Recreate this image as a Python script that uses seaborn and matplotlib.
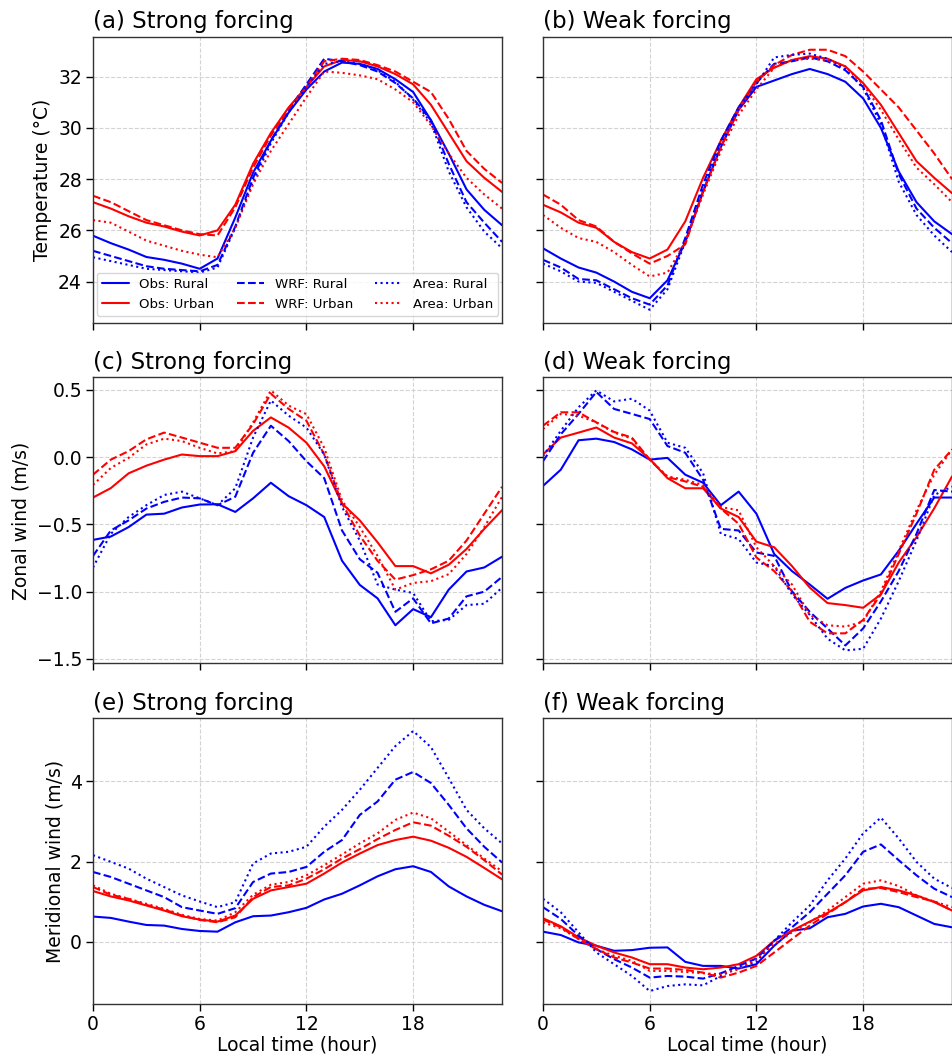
import numpy as np
import pandas as pd
import matplotlib
matplotlib.use("Agg")
import matplotlib.pyplot as plt
import seaborn as sns

hours = list(range(24))

# ---------------- Temperature (°C) ----------------
t_strong_obs_rural = [25.79, 25.5, 25.25, 24.96, 24.85, 24.7, 24.5, 24.9, 26.5, 28.25, 29.5, 30.6, 31.5, 32.2, 32.55, 32.5, 32.3, 31.9, 31.4, 30.3, 29.0, 27.6, 26.8, 26.2]
t_strong_obs_urban = [27.1, 26.85, 26.55, 26.3, 26.15, 25.95, 25.8, 26.0, 27.0, 28.6, 29.8, 30.8, 31.6, 32.4, 32.65, 32.6, 32.4, 32.1, 31.7, 30.9, 29.8, 28.7, 28.05, 27.5]
t_strong_wrf_rural = [25.2, 25.0, 24.8, 24.6, 24.5, 24.45, 24.4, 24.65, 26.15, 28.05, 29.5, 30.7, 31.7, 32.7, 32.6, 32.45, 32.2, 31.75, 31.15, 30.3, 28.6, 27.1, 26.3, 25.55]
t_strong_wrf_urban = [27.35, 27.1, 26.75, 26.4, 26.2, 26.0, 25.85, 25.8, 26.9, 28.45, 29.7, 30.75, 31.6, 32.6, 32.7, 32.65, 32.45, 32.2, 31.8, 31.4, 30.35, 29.1, 28.4, 27.85]
t_strong_area_rural = [24.95, 24.8, 24.65, 24.5, 24.45, 24.4, 24.35, 24.55, 26.1, 27.9, 29.4, 30.6, 31.6, 32.5, 32.6, 32.5, 32.25, 31.8, 31.1, 30.2, 28.3, 26.9, 25.95, 25.3]
t_strong_area_urban = [26.4, 26.3, 25.95, 25.6, 25.4, 25.2, 25.05, 24.95, 26.1, 27.8, 29.1, 30.15, 31.2, 32.2, 32.15, 32.05, 31.9, 31.5, 31.0, 30.1, 29.0, 28.05, 27.4, 26.85]

t_weak_obs_rural = [25.3, 24.9, 24.55, 24.35, 24.0, 23.6, 23.35, 24.05, 25.55, 27.5, 29.25, 30.7, 31.6, 31.85, 32.1, 32.3, 32.1, 31.8, 31.15, 30.0, 28.3, 27.1, 26.35, 25.85]
t_weak_obs_urban = [27.0, 26.7, 26.3, 26.1, 25.55, 25.15, 24.9, 25.25, 26.35, 28.05, 29.5, 30.8, 31.9, 32.35, 32.65, 32.8, 32.7, 32.4, 31.75, 30.9, 29.8, 28.7, 28.05, 27.45]
t_weak_wrf_rural = [24.85, 24.55, 24.1, 24.05, 23.7, 23.35, 23.1, 23.85, 25.7, 27.8, 29.5, 30.8, 31.75, 32.5, 32.6, 32.75, 32.6, 32.25, 31.6, 30.3, 28.2, 26.85, 26.1, 25.5]
t_weak_wrf_urban = [27.4, 27.0, 26.4, 26.15, 25.55, 25.1, 24.7, 25.0, 25.45, 27.55, 29.25, 30.7, 31.8, 32.45, 32.85, 33.05, 33.05, 32.8, 32.2, 31.5, 30.8, 29.9, 29.0, 28.0]
t_weak_area_rural = [24.7, 24.4, 24.0, 23.95, 23.6, 23.25, 22.9, 23.7, 25.55, 27.65, 29.4, 30.75, 31.7, 32.75, 32.85, 32.9, 32.7, 32.3, 31.55, 30.15, 27.9, 26.6, 25.8, 25.15]
t_weak_area_urban = [26.6, 26.1, 25.7, 25.55, 25.15, 24.65, 24.2, 24.35, 25.55, 27.4, 29.1, 30.5, 31.5, 32.35, 32.65, 32.7, 32.65, 32.4, 31.7, 30.7, 29.55, 28.45, 27.8, 27.1]

# ---------------- Zonal wind (m/s) ----------------
u_strong_obs_rural = [-0.615, -0.59, -0.52, -0.427, -0.42, -0.374, -0.352, -0.35, -0.407, -0.306, -0.19, -0.29, -0.357, -0.445, -0.77, -0.95, -1.05, -1.25, -1.13, -1.19, -0.985, -0.85, -0.82, -0.74]
u_strong_obs_urban = [-0.30, -0.23, -0.12, -0.063, -0.018, 0.02, 0.008, 0.008, 0.045, 0.196, 0.296, 0.22, 0.108, -0.068, -0.344, -0.47, -0.633, -0.81, -0.81, -0.864, -0.80, -0.683, -0.533, -0.394]
u_strong_wrf_rural = [-0.734, -0.545, -0.47, -0.382, -0.332, -0.30, -0.306, -0.357, -0.294, 0.033, 0.234, 0.12, -0.03, -0.156, -0.545, -0.759, -0.86, -1.15, -1.05, -1.236, -1.2, -1.035, -1.0, -0.89]
u_strong_wrf_urban = [-0.13, -0.018, 0.045, 0.133, 0.183, 0.146, 0.108, 0.07, 0.07, 0.246, 0.472, 0.359, 0.271, 0.02, -0.344, -0.583, -0.771, -0.91, -0.877, -0.834, -0.77, -0.62, -0.42, -0.22]
u_strong_area_rural = [-0.82, -0.57, -0.445, -0.357, -0.281, -0.256, -0.306, -0.357, -0.231, 0.146, 0.422, 0.309, 0.22, 0.02, -0.37, -0.62, -0.947, -0.985, -1.01, -1.22, -1.21, -1.1, -1.09, -0.97]
u_strong_area_urban = [-0.206, -0.08, -0.005, 0.095, 0.138, 0.12, 0.07, 0.028, 0.045, 0.259, 0.497, 0.384, 0.32, 0.07, -0.32, -0.52, -0.734, -0.985, -0.935, -0.922, -0.87, -0.72, -0.52, -0.294]

u_weak_obs_rural = [-0.214, -0.093, 0.126, 0.138, 0.113, 0.058, -0.018, -0.005, -0.13, -0.19, -0.357, -0.256, -0.42, -0.72, -0.847, -0.947, -1.053, -0.972, -0.917, -0.872, -0.696, -0.495, -0.3, -0.3]
u_weak_obs_urban = [0.02, 0.146, 0.183, 0.221, 0.146, 0.103, -0.013, -0.156, -0.231, -0.231, -0.382, -0.445, -0.628, -0.67, -0.81, -0.97, -1.085, -1.1, -1.12, -1.02, -0.784, -0.595, -0.38, -0.143]
u_weak_wrf_rural = [-0.03, 0.17, 0.322, 0.485, 0.359, 0.322, 0.284, 0.083, 0.033, -0.168, -0.533, -0.545, -0.709, -0.734, -0.997, -1.15, -1.274, -1.4, -1.274, -1.073, -0.847, -0.57, -0.244, -0.256]
u_weak_wrf_urban = [0.234, 0.334, 0.334, 0.259, 0.188, 0.146, -0.018, -0.148, -0.18, -0.22, -0.382, -0.495, -0.746, -0.847, -0.997, -1.224, -1.31, -1.31, -1.21, -1.02, -0.72, -0.42, -0.093, 0.058]
u_weak_area_rural = [0.008, 0.196, 0.372, 0.497, 0.415, 0.435, 0.347, 0.108, 0.07, -0.118, -0.57, -0.608, -0.784, -0.81, -1.02, -1.173, -1.35, -1.437, -1.425, -1.2, -0.922, -0.62, -0.281, -0.219]
u_weak_area_urban = [0.209, 0.322, 0.309, 0.259, 0.183, 0.138, -0.018, -0.143, -0.168, -0.206, -0.37, -0.395, -0.67, -0.81, -0.947, -1.173, -1.25, -1.26, -1.224, -0.997, -0.696, -0.395, -0.13, 0.058]

# ---------------- Meridional wind (m/s) ----------------
v_strong_obs_rural = [0.628, 0.594, 0.502, 0.418, 0.402, 0.318, 0.268, 0.251, 0.485, 0.636, 0.653, 0.736, 0.845, 1.054, 1.197, 1.406, 1.632, 1.808, 1.883, 1.74, 1.38, 1.13, 0.92, 0.76]
v_strong_obs_urban = [1.264, 1.13, 1.03, 0.904, 0.778, 0.636, 0.552, 0.502, 0.653, 1.07, 1.28, 1.364, 1.448, 1.7, 1.975, 2.2, 2.41, 2.536, 2.62, 2.52, 2.343, 2.117, 1.84, 1.556]
v_strong_wrf_rural = [1.74, 1.615, 1.448, 1.28, 1.113, 0.862, 0.778, 0.695, 0.837, 1.49, 1.7, 1.74, 1.866, 2.243, 2.536, 3.163, 3.498, 4.042, 4.234, 3.958, 3.414, 2.828, 2.368, 1.975]
v_strong_wrf_urban = [1.364, 1.172, 1.07, 0.92, 0.803, 0.653, 0.544, 0.485, 0.611, 1.113, 1.364, 1.406, 1.573, 1.808, 2.075, 2.31, 2.56, 2.787, 2.979, 2.895, 2.644, 2.368, 2.033, 1.674]
v_strong_area_rural = [2.159, 1.992, 1.824, 1.573, 1.364, 1.155, 1.004, 0.862, 0.987, 1.95, 2.2, 2.243, 2.368, 2.87, 3.289, 3.79, 4.335, 4.879, 5.255, 4.854, 4.084, 3.289, 2.828, 2.452]
v_strong_area_urban = [1.406, 1.197, 1.07, 0.946, 0.82, 0.669, 0.569, 0.527, 0.736, 1.172, 1.423, 1.49, 1.657, 1.908, 2.176, 2.452, 2.703, 3.038, 3.222, 3.079, 2.745, 2.41, 2.075, 1.757]

v_weak_obs_rural = [0.251, 0.167, -0.017, -0.1, -0.226, -0.209, -0.15, -0.142, -0.502, -0.603, -0.603, -0.669, -0.56, -0.1, 0.276, 0.335, 0.611, 0.695, 0.879, 0.946, 0.862, 0.653, 0.444, 0.36]
v_weak_obs_urban = [0.586, 0.385, 0.109, -0.1, -0.268, -0.393, -0.56, -0.56, -0.644, -0.686, -0.644, -0.56, -0.351, 0.025, 0.276, 0.502, 0.72, 0.987, 1.28, 1.364, 1.28, 1.155, 0.987, 0.778]
v_weak_wrf_rural = [0.862, 0.569, 0.151, -0.184, -0.435, -0.644, -0.895, -0.854, -0.87, -0.92, -0.787, -0.603, -0.418, 0.025, 0.36, 0.736, 1.197, 1.657, 2.243, 2.427, 2.033, 1.657, 1.322, 1.113]
v_weak_wrf_urban = [0.552, 0.36, 0.067, -0.184, -0.393, -0.519, -0.669, -0.669, -0.703, -0.77, -0.895, -0.77, -0.603, -0.268, 0.067, 0.402, 0.695, 0.987, 1.322, 1.339, 1.238, 1.113, 1.004, 0.778]
v_weak_area_rural = [1.071, 0.736, 0.234, -0.268, -0.56, -0.854, -1.23, -1.105, -1.063, -1.088, -0.854, -0.644, -0.502, 0.025, 0.485, 0.904, 1.531, 2.075, 2.703, 3.096, 2.577, 1.992, 1.573, 1.339]
v_weak_area_urban = [0.485, 0.335, 0.067, -0.184, -0.351, -0.477, -0.728, -0.728, -0.753, -0.787, -0.812, -0.686, -0.435, -0.059, 0.234, 0.485, 0.778, 1.113, 1.448, 1.531, 1.389, 1.155, 1.004, 0.862]

titles = ["(a) Strong forcing", "(b) Weak forcing",
          "(c) Strong forcing", "(d) Weak forcing",
          "(e) Strong forcing", "(f) Weak forcing"]
ylabels = ["Temperature (°C)", "Zonal wind (m/s)", "Meridional wind (m/s)"]
xticks = [0, 6, 12, 18]
xlabel = "Local time (hour)"
sources = ["Obs", "WRF", "Area"]
sites = ["Rural", "Urban"]

panels = [
    [t_strong_obs_rural, t_strong_obs_urban, t_strong_wrf_rural, t_strong_wrf_urban, t_strong_area_rural, t_strong_area_urban],
    [t_weak_obs_rural, t_weak_obs_urban, t_weak_wrf_rural, t_weak_wrf_urban, t_weak_area_rural, t_weak_area_urban],
    [u_strong_obs_rural, u_strong_obs_urban, u_strong_wrf_rural, u_strong_wrf_urban, u_strong_area_rural, u_strong_area_urban],
    [u_weak_obs_rural, u_weak_obs_urban, u_weak_wrf_rural, u_weak_wrf_urban, u_weak_area_rural, u_weak_area_urban],
    [v_strong_obs_rural, v_strong_obs_urban, v_strong_wrf_rural, v_strong_wrf_urban, v_strong_area_rural, v_strong_area_urban],
    [v_weak_obs_rural, v_weak_obs_urban, v_weak_wrf_rural, v_weak_wrf_urban, v_weak_area_rural, v_weak_area_urban],
]

colors = {"Rural": "blue", "Urban": "red"}
styles = {"Obs": "-", "WRF": "--", "Area": ":"}

sns.set_style("ticks")
plt.rcParams["font.family"] = ["DejaVu Sans"]
plt.rcParams["text.color"] = "black"
plt.rcParams["axes.labelcolor"] = "black"
plt.rcParams["xtick.color"] = "black"
plt.rcParams["ytick.color"] = "black"

fig, axes = plt.subplots(3, 2, figsize=(9.53, 10.56), dpi=100, sharex=True, sharey="row")
fig.subplots_adjust(left=0.0976, right=0.999, top=0.9652, bottom=0.0492, wspace=0.1, hspace=0.191)

for i, ax in enumerate(axes.flat):
    series = panels[i]
    k = 0
    for src in sources:
        for site in sites:
            df = pd.DataFrame({"hour": hours, "value": series[k]})
            sns.lineplot(data=df, x="hour", y="value", ax=ax, color=colors[site],
                         linestyle=styles[src], linewidth=1.5,
                         label=f"{src}: {site}")
            k += 1
    if ax.get_legend() is not None:
        ax.get_legend().remove()
    ax.set_xlim(0, 23)
    ax.set_xticks(xticks)
    ax.grid(True, linestyle="--", color="#d3d3d3", linewidth=0.8)
    ax.set_axisbelow(True)
    ax.set_title(titles[i], loc="left", fontsize=16.5, pad=6)
    ax.tick_params(labelsize=13.5, length=5, width=1, pad=3)
    for sp in ax.spines.values():
        sp.set_color("#333333")
        sp.set_linewidth(1.0)
    row, col = divmod(i, 2)
    ax.set_ylabel(ylabels[row] if col == 0 else "", fontsize=13.5)
    ax.set_xlabel(xlabel if row == 2 else "", fontsize=13.5, labelpad=1)

handles, labels = axes[0, 0].get_legend_handles_labels()
axes[0, 0].legend(handles, labels, ncol=3, loc="lower center", fontsize=9.6,
                  frameon=True, framealpha=0.8, edgecolor="#cccccc",
                  columnspacing=1.7, handlelength=2.0, borderaxespad=0.5)

fig.savefig("out.png", dpi=100)
